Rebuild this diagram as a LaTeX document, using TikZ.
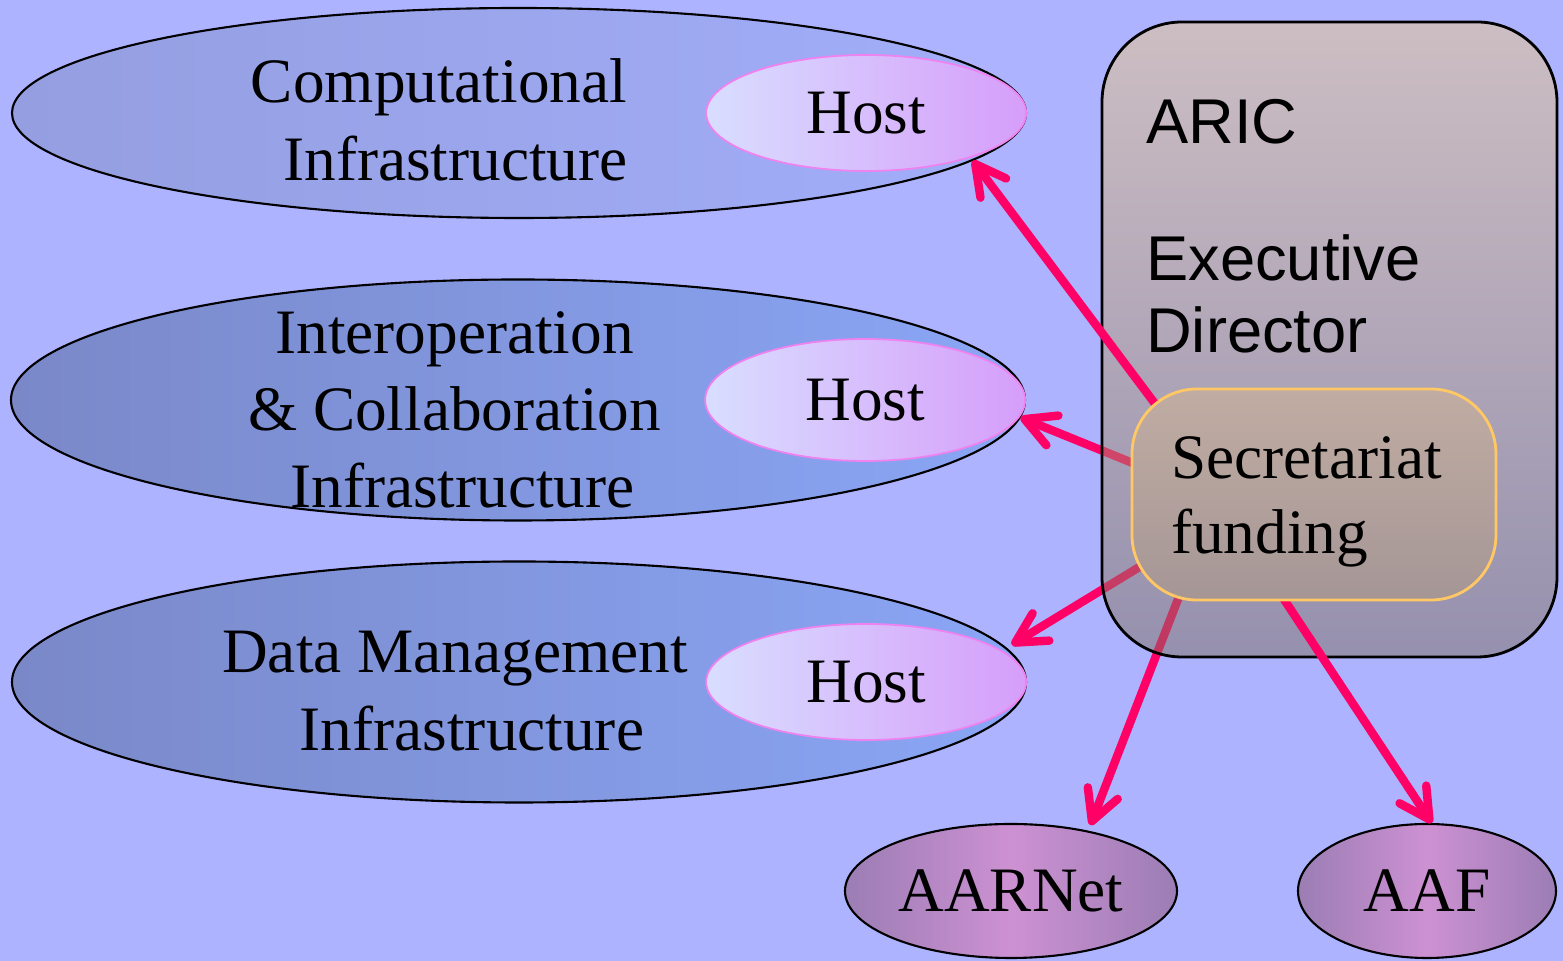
\documentclass[tikz,border=0pt]{standalone}
\usepackage{fontspec}
\setmainfont{Liberation Serif}
\newfontfamily\aricfont{Liberation Sans}
\usepackage{tikz}
\usetikzlibrary{arrows.meta, positioning, shapes.geometric}
\usepackage{xcolor}
\definecolor{bgx}{RGB}{173,179,255}
\definecolor{compl}{RGB}{148,158,224}
\definecolor{compr}{RGB}{162,174,250}
\definecolor{infl}{RGB}{122,136,200}
\definecolor{infr}{RGB}{138,166,246}
\definecolor{hostl}{RGB}{216,222,255}
\definecolor{hostr}{RGB}{214,158,250}
\definecolor{hostline}{RGB}{240,130,240}
\definecolor{arict}{RGB}{237,201,135}
\definecolor{aricb}{RGB}{127,111,95}
\definecolor{sect}{RGB}{192,172,162}
\definecolor{secb}{RGB}{165,150,150}
\definecolor{secline}{RGB}{255,200,100}
\definecolor{peerx}{RGB}{155,125,180}
\definecolor{peerm}{RGB}{205,145,210}
\definecolor{linkx}{RGB}{255,0,102}
\pgfdeclarelayer{links}
\pgfdeclarelayer{panel}
\pgfdeclarelayer{front}
\pgfsetlayers{main,links,panel,front}

\begin{document}
\begin{tikzpicture}[
      font=\fontsize{18}{22}\selectfont,
      area/.style={ellipse, draw=black, line width=0.6pt, inner sep=0pt,
                   minimum width=10.14cm},
      host/.style={ellipse, draw=hostline, line width=0.5pt, inner sep=0pt,
                   left color=hostl, right color=hostr,
                   minimum width=3.2cm, minimum height=1.16cm},
      peer/.style={ellipse, draw=black, line width=0.6pt, inner sep=0pt,
                   left color=peerx, right color=peerx, middle color=peerm,
                   minimum height=1.34cm},
      lbl/.style={align=center, inner sep=0pt},
      arr/.style={-{Straight Barb[length=3mm, width=3.2mm, round]},
                  line width=2.4pt, draw=linkx, line cap=round}
    ]
    \fill[bgx] (0,0) rectangle (15.63,9.61);
    \useasboundingbox (0,0) rectangle (15.63,9.61);

    \node[area, left color=compl, right color=compr, minimum height=2.10cm] (comp)  at (5.19,8.48) {};
    \node[area, left color=infl, right color=infr, minimum height=2.41cm]   (inter) at (5.18,5.61) {};
    \node[area, left color=infl, right color=infr, minimum height=2.41cm]   (data)  at (5.19,2.79) {};
    \node[host, anchor=east] (host1) at (comp.east)  {Host};
    \node[host, anchor=east, minimum height=1.22cm] (host2) at (inter.east) {Host};
    \node[host, anchor=east] (host3) at (data.east)  {Host};
    \node[lbl] (comptxt)  at (4.39,8.41) {Computational\\\hspace*{0.33cm}Infrastructure};
    \node[lbl] (intertxt) at (4.545,5.51) {Interoperation\\\& Collaboration\\\hspace*{0.16cm}Infrastructure};
    \node[lbl] (datatxt)  at (4.55,2.70) {Data Management\\\hspace*{0.34cm}Infrastructure};

    \node[peer, minimum width=3.32cm] (aarnet) at (10.11,0.70) {AARNet};
    \node[peer, minimum width=2.58cm] (aaf)    at (14.27,0.70) {AAF};

    \begin{pgfonlayer}{panel}
    \node[rectangle, rounded corners=0.8cm, draw=black, line width=0.8pt,
          top color=arict, bottom color=aricb, fill opacity=0.5,
          minimum width=4.55cm, minimum height=6.35cm] (aric) at (13.295,6.215) {};
    \node[anchor=north west, inner sep=0pt, align=left,
          font=\aricfont\fontsize{18}{20.6}\selectfont,
          below right=0.78cm and 0.45cm of aric.north west] (arictxt)
          {ARIC\\[18.4pt]Executive\\Director};
    \end{pgfonlayer}

    \begin{pgfonlayer}{front}
    \node[rectangle, rounded corners=0.65cm, draw=secline, line width=0.8pt,
          top color=sect, bottom color=secb,
          minimum width=3.64cm, minimum height=2.11cm,
          above right=0.57cm and 0.30cm of aric.south west] (sec) {};
    \node[anchor=north west, inner sep=0pt, align=left,
          font=\fontsize{18}{21.3}\selectfont,
          below right=0.48cm and 0.40cm of sec.north west] (sectxt)
          {Secretariat\\funding};
    \end{pgfonlayer}

    \begin{pgfonlayer}{panel}
    \draw[arr, shorten <=-0.3cm] (sec.148.5) -- (comp.-6);
    \draw[arr, shorten <=-0.2cm] (sec.255.5) -- (aaf.86);
    \end{pgfonlayer}

    \begin{pgfonlayer}{links}
    \draw[arr, shorten <=-0.2cm] (sec.170) -- (inter.-2);
    \draw[arr, shorten <=-0.2cm, shorten >=0.06cm] (sec.203.1) -- (data.4.5);
    \draw[arr, shorten <=-0.2cm, shorten >=0.06cm] (sec.218.6) -- (aarnet.38);
    \end{pgfonlayer}
  \end{tikzpicture}
\end{document}
